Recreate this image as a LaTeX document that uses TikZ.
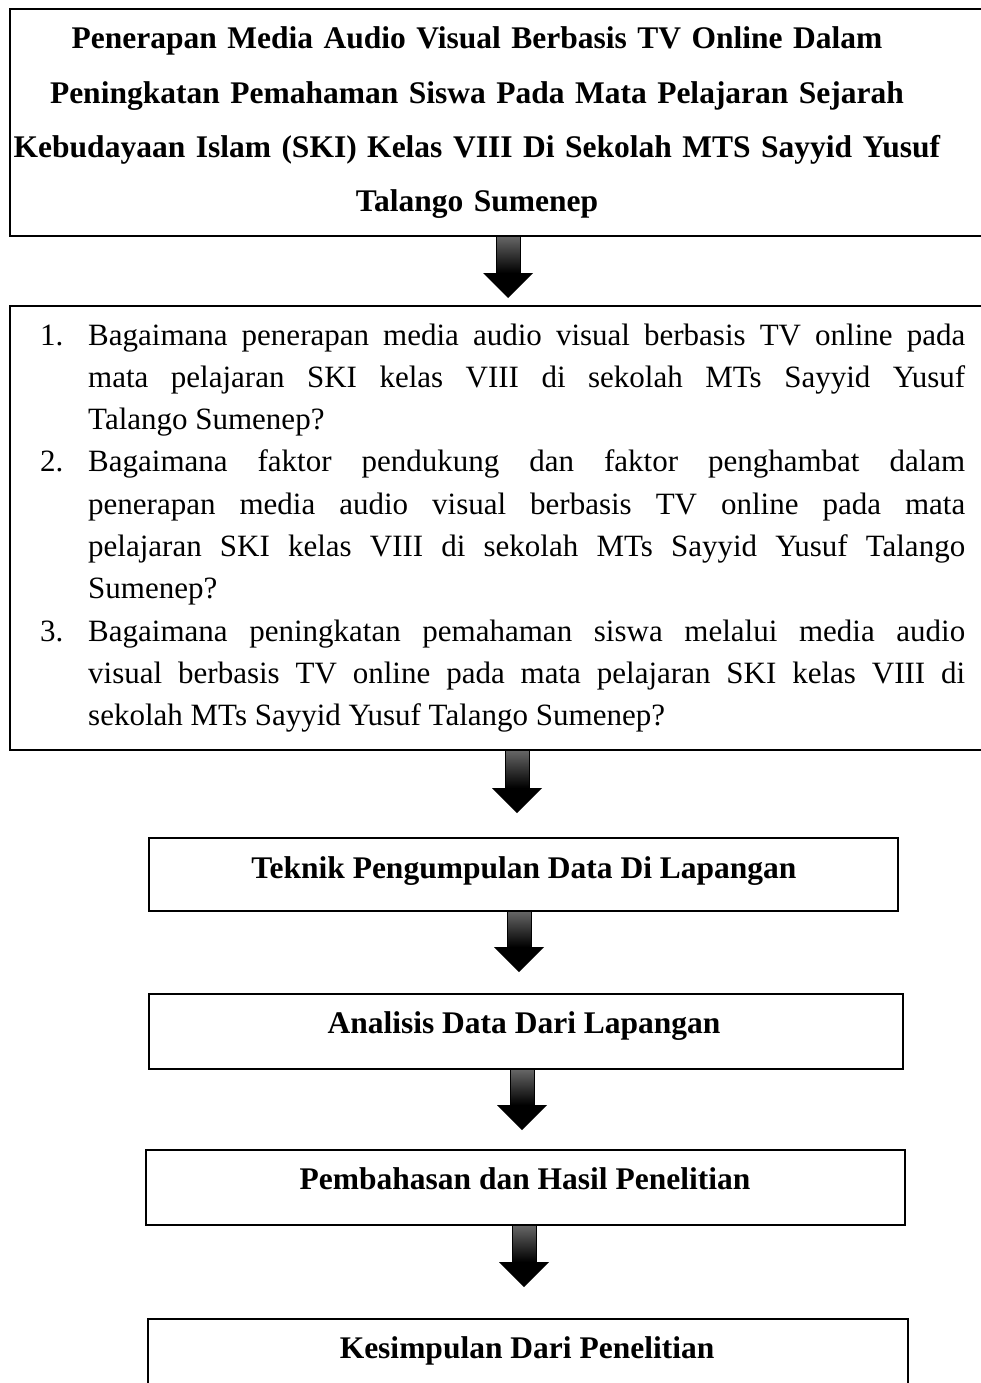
\documentclass[tikz,border=0pt]{standalone}
\usepackage{fontspec}
\setmainfont{Liberation Serif}
\usetikzlibrary{calc}
\tikzset{
  flowbox/.style={draw=black, line width=1.6pt, rectangle, inner sep=0pt, anchor=north west},
  boldtxt/.style={font=\fontsize{31.5}{54.3}\selectfont\bfseries, inner sep=0pt, anchor=base},
  listtxt/.style={font=\fontsize{31}{42.3}\selectfont, inner sep=0pt, anchor=base west,
                  text width=925pt, align=justify},
}
\newcommand\blockarr[2]{%
  \shade[top color=black!60, bottom color=black, draw=black, line width=0.4pt]
    ($(#1)+(-12,0)$) rectangle ($(#2)+(12,-25)$);
  \fill[black] ($(#2)+(-25,-25)$) -- ($(#2)+(25,-25)$) -- (#2) -- cycle;
}
\begin{document}
\begin{tikzpicture}[x=1pt, y=-1pt]
\useasboundingbox (0,0) rectangle (981,1383);

% boxes
\node[flowbox, minimum width=985pt, minimum height=227pt] (b1) at (9,8) {};
\node[flowbox, minimum width=985pt, minimum height=444pt] (b2) at (9,305) {};
\node[flowbox, minimum width=749pt, minimum height=73pt] (b3) at (148,837) {};
\node[flowbox, minimum width=754pt, minimum height=75pt] (b4) at (148,993) {};
\node[flowbox, minimum width=759pt, minimum height=75pt] (b5) at (145,1149) {};
\node[flowbox, minimum width=760pt, minimum height=90pt] (b6) at (147,1318) {};

% texts
\node[boldtxt, text width=960pt, align=center] (t1) at (477,49)
  {Penerapan Media Audio Visual Berbasis TV Online Dalam\\
   Peningkatan Pemahaman Siswa Pada Mata Pelajaran Sejarah\\
   Kebudayaan Islam (SKI) Kelas VIII Di Sekolah MTS Sayyid Yusuf\\
   Talango Sumenep};

\node[listtxt] (t2) at (40,345) {\tolerance=10000
  \hangindent=48pt\hangafter=1\noindent\makebox[48pt][l]{1.}Bagaimana penerapan media audio visual berbasis TV online pada\linebreak mata pelajaran SKI kelas VIII di sekolah MTs Sayyid Yusuf\linebreak Talango Sumenep?\par
  \hangindent=48pt\hangafter=1\noindent\makebox[48pt][l]{2.}Bagaimana faktor pendukung dan faktor penghambat dalam\linebreak penerapan media audio visual berbasis TV online pada mata\linebreak pelajaran SKI kelas VIII di sekolah MTs Sayyid Yusuf Talango\linebreak Sumenep?\par
  \hangindent=48pt\hangafter=1\noindent\makebox[48pt][l]{3.}Bagaimana peningkatan pemahaman siswa melalui media audio\linebreak visual berbasis TV online pada mata pelajaran SKI kelas VIII di\linebreak sekolah MTs Sayyid Yusuf Talango Sumenep?\par};

\node[boldtxt] (t3) at (524,878) {Teknik Pengumpulan Data Di Lapangan};
\node[boldtxt] (t4) at (524,1033) {Analisis Data Dari Lapangan};
\node[boldtxt] (t5) at (525,1189) {Pembahasan dan Hasil Penelitian};
\node[boldtxt] (t6) at (527,1358) {Kesimpulan Dari Penelitian};

% arrow tips
\coordinate (a1e) at (508,298);
\coordinate (a2e) at (517,813);
\coordinate (a3e) at (519,972);
\coordinate (a4e) at (522,1130);
\coordinate (a5e) at (524,1287);
\coordinate (a1s) at (b1.south -| a1e);
\coordinate (a2s) at (b2.south -| a2e);
\coordinate (a3s) at (b3.south -| a3e);
\coordinate (a4s) at (b4.south -| a4e);
\coordinate (a5s) at (b5.south -| a5e);

\blockarr{a1s}{a1e}
\blockarr{a2s}{a2e}
\blockarr{a3s}{a3e}
\blockarr{a4s}{a4e}
\blockarr{a5s}{a5e}
\end{tikzpicture}
\end{document}
